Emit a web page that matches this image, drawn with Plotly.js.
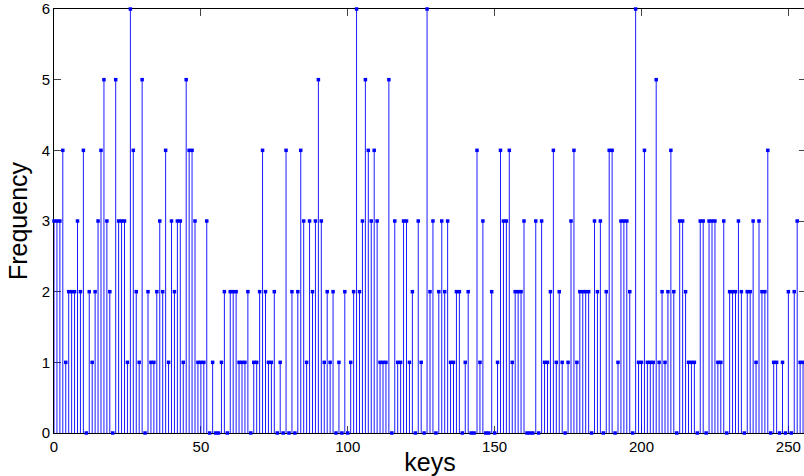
<!DOCTYPE html>
<html>
<head>
<meta charset="utf-8">
<script src="https://cdn.plot.ly/plotly-3.0.1.min.js"></script>
<style>
  html, body { margin: 0; padding: 0; overflow: hidden; background: #fff; }
  #chart { width: 806px; height: 476px; }
</style>
</head>
<body>
<div id="chart"></div>
<script>
// Frequency of each key 0..255
const frequency = [
  3,
  3,3,4,1,2,2,2,3,2,4,0,2,1,2,3,4,5,3,2,0,5,3,3,
  3,1,6,4,2,1,5,0,2,1,1,2,3,2,4,1,3,2,3,3,1,5,4,
  4,3,1,1,1,3,0,1,0,0,1,2,0,2,2,2,1,1,1,2,0,1,1,
  2,4,2,1,1,2,0,1,0,4,0,2,0,2,4,3,1,3,2,3,5,3,1,
  2,1,2,0,1,0,2,0,1,2,6,2,3,5,4,3,4,3,1,1,1,5,0,
  3,1,1,3,3,1,2,0,3,1,0,6,2,3,0,2,3,2,3,1,1,2,2,
  0,1,2,0,0,4,1,3,0,0,2,0,1,4,3,3,4,1,2,2,2,3,0,0,
  0,3,0,3,1,1,2,4,1,2,1,0,1,3,4,1,2,2,2,2,0,3,2,
  3,0,2,4,4,0,1,3,3,3,2,0,6,1,1,4,1,1,1,5,1,2,1,
  2,4,2,0,3,3,2,1,1,1,0,3,3,0,3,3,3,1,1,3,0,2,2,
  2,3,2,0,2,2,3,1,3,2,2,4,0,1,1,0,1,0,2,0,2,3,1,1
];
const keys = frequency.map((_, i) => i);
const xTicks = [0, 50, 100, 150, 200, 250];
const yTicks = [0, 1, 2, 3, 4, 5, 6];
const zeros = frequency.map(() => 0);

const FONT = '"Liberation Sans", Arial, Helvetica, sans-serif';

const trace = {
  type: 'scatter',
  mode: 'markers',
  x: keys,
  y: frequency,
  cliponaxis: false,
  marker: { color: '#0000ff', size: 3.5, symbol: 'square', line: { width: 0 } },
  error_y: {
    type: 'data',
    symmetric: false,
    array: zeros,
    arrayminus: frequency,
    width: 0,
    thickness: 0.9,
    color: '#0000ff'
  },
  hoverinfo: 'x+y'
};

const layout = {
  width: 806,
  height: 476,
  margin: { l: 54, r: 0, t: 9, b: 43, pad: 0 },
  paper_bgcolor: '#ffffff',
  plot_bgcolor: '#ffffff',
  showlegend: false,
  font: { family: FONT, color: '#000', size: 15 },
  xaxis: {
    range: [0, 256],
    tickvals: xTicks,
    ticktext: xTicks.map(String),
    ticks: 'inside',
    ticklen: 7,
    tickwidth: 1,
    tickcolor: '#444',
    showline: true,
    linecolor: '#000',
    linewidth: 1,
    mirror: 'ticks',
    showgrid: false,
    zeroline: false,
    layer: 'below traces',
    tickfont: { family: FONT, size: 15, color: '#000' },
    title: { text: 'keys', font: { family: FONT, size: 25, color: '#000' }, standoff: 2 },
    automargin: false
  },
  yaxis: {
    range: [0, 6],
    tickvals: yTicks,
    ticktext: yTicks.map(String),
    ticks: 'inside',
    ticklen: 7,
    tickwidth: 1,
    tickcolor: '#444',
    showline: true,
    linecolor: '#000',
    linewidth: 1,
    mirror: 'ticks',
    showgrid: false,
    zeroline: false,
    layer: 'below traces',
    tickfont: { family: FONT, size: 15, color: '#000' },
    title: { text: 'Frequency', font: { family: FONT, size: 25, color: '#000' }, standoff: 6 },
    automargin: false
  }
};

Plotly.newPlot('chart', [trace], layout, { displayModeBar: false, staticPlot: true });
</script>
</body>
</html>
